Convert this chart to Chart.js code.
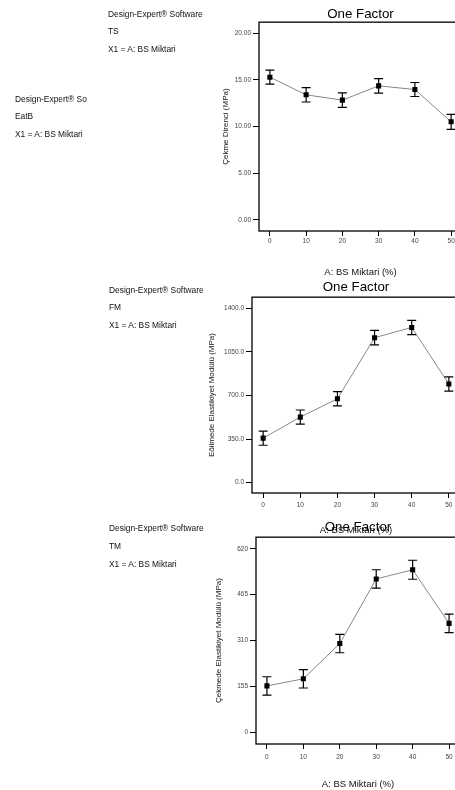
<!DOCTYPE html>
<html>
<head>
<meta charset="utf-8">
<script src="https://cdn.jsdelivr.net/npm/chart.js@4.4.1/dist/chart.umd.min.js"></script>
<style>
html, body { margin: 0; padding: 0; width: 455px; height: 790px; overflow: hidden; background: #fff; }
body { position: relative; font-family: "Liberation Sans", Arial, sans-serif; }
.plot { position: absolute; }
.note { position: absolute; font-size: 8.4px; line-height: 10px; color: #111; white-space: nowrap; overflow: hidden; will-change: transform; }
</style>
</head>
<body>
<div class="note" style="left:108px;top:9px">Design-Expert® Software</div>
<div class="note" style="left:108px;top:26px">TS</div>
<div class="note" style="left:108px;top:44px">X1 = A: BS Miktari</div>

<div class="note" style="left:15px;top:94px;width:72px">Design-Expert® Software</div>
<div class="note" style="left:15px;top:111px">EatB</div>
<div class="note" style="left:15px;top:129px">X1 = A: BS Miktari</div>

<div class="note" style="left:109px;top:285px">Design-Expert® Software</div>
<div class="note" style="left:109px;top:302px">FM</div>
<div class="note" style="left:109px;top:320px">X1 = A: BS Miktari</div>

<div class="note" style="left:109px;top:523px">Design-Expert® Software</div>
<div class="note" style="left:109px;top:541px">TM</div>
<div class="note" style="left:109px;top:559px">X1 = A: BS Miktari</div>

<canvas id="ts" class="plot" width="266" height="280" style="left:200px;top:0px"></canvas>
<canvas id="fm" class="plot" width="264" height="262" style="left:200px;top:275px"></canvas>
<canvas id="tm" class="plot" width="264" height="275" style="left:200px;top:515px"></canvas>

<script>
// BS amount levels (%)
const xLevels = [0, 10, 20, 30, 40, 50];

// TS - tensile strength (MPa)
const tsMean = [15.29, 13.40, 12.83, 14.36, 13.97, 10.51];
const tsErr  = [0.75, 0.77, 0.77, 0.77, 0.75, 0.80];
const tsTicks = [0, 5, 10, 15, 20];

// FM - flexural modulus (MPa)
const fmMean = [357, 526, 673, 1163, 1245, 791];
const fmErr  = [57, 57, 57, 58, 57, 57];
const fmTicks = [0, 350, 700, 1050, 1400];

// TM - tensile modulus (MPa)
const tmMean = [157, 181, 300, 518, 549, 368];
const tmErr  = [31, 31, 31, 31, 32, 31];
const tmTicks = [0, 155, 310, 465, 620];

const FONT = '"Liberation Sans", Arial, sans-serif';

const frame = {
  id: 'frame',
  afterDraw(chart) {
    const {ctx, chartArea: a} = chart;
    ctx.save();
    ctx.strokeStyle = '#000';
    ctx.lineWidth = 1.3;
    ctx.strokeRect(a.left, a.top, a.right - a.left, a.bottom - a.top);
    ctx.restore();
  }
};

const errorBars = {
  id: 'errorBars',
  afterDatasetsDraw(chart, args, opts) {
    const {ctx, scales: {x, y}} = chart;
    ctx.save();
    ctx.strokeStyle = '#000';
    ctx.lineWidth = 1.2;
    opts.mean.forEach((m, i) => {
      const px = x.getPixelForValue(xLevels[i]);
      const hi = y.getPixelForValue(m + opts.err[i]);
      const lo = y.getPixelForValue(m - opts.err[i]);
      ctx.beginPath();
      ctx.moveTo(px, hi); ctx.lineTo(px, lo);
      ctx.moveTo(px - 4.5, hi); ctx.lineTo(px + 4.5, hi);
      ctx.moveTo(px - 4.5, lo); ctx.lineTo(px + 4.5, lo);
      ctx.stroke();
    });
    ctx.restore();
  }
};

function makeChart(id, c) {
  return new Chart(document.getElementById(id), {
    type: 'line',
    data: {
      datasets: [{
        data: xLevels.map((v, i) => ({x: v, y: c.mean[i]})),
        borderColor: '#888',
        borderWidth: 1,
        pointStyle: 'rect',
        pointRadius: 3.6,
        pointBorderWidth: 0,
        pointBackgroundColor: '#000',
        pointBorderColor: '#000',
        tension: 0
      }]
    },
    options: {
      responsive: false,
      animation: false,
      layout: {padding: 0},
      plugins: {
        legend: {display: false},
        tooltip: {enabled: false},
        title: {
          display: true,
          text: 'One Factor',
          fullSize: false,
          color: '#000',
          font: {family: FONT, size: 13.3, weight: 'normal'},
          padding: {top: c.titleTop, bottom: c.titleBottom}
        },
        errorBars: {mean: c.mean, err: c.err}
      },
      scales: {
        x: {
          type: 'linear',
          min: -3,
          max: 53,
          afterBuildTicks: s => { s.ticks = xLevels.map(v => ({value: v})); },
          afterFit: s => { s.height = c.xHeight; },
          grid: {drawOnChartArea: false, drawTicks: true, tickLength: 5, color: '#000', lineWidth: 1},
          border: {display: false},
          ticks: {color: '#444', padding: c.xTickPad, font: {family: FONT, size: 6.5}, maxRotation: 0},
          title: {
            display: true,
            text: 'A: BS Miktari (%)',
            color: '#111',
            font: {family: FONT, size: 9.5},
            padding: {top: 0, bottom: c.xTitleBottom}
          }
        },
        y: {
          min: c.yMin,
          max: c.yMax,
          afterBuildTicks: s => { s.ticks = c.ticks.map(v => ({value: v})); },
          afterFit: s => { s.width = c.yWidth; },
          grid: {drawOnChartArea: false, drawTicks: true, tickLength: 6, color: '#000', lineWidth: 1},
          border: {display: false},
          ticks: {color: '#444', padding: 2, font: {family: FONT, size: 6.5}, callback: v => v.toFixed(c.digits)},
          title: {
            display: true,
            text: c.yTitle,
            color: '#111',
            font: {family: FONT, size: 8},
            padding: {top: c.yTitleTop, bottom: 0}
          }
        }
      }
    },
    plugins: [frame, errorBars]
  });
}

makeChart('ts', {
  mean: tsMean, err: tsErr, ticks: tsTicks, digits: 2,
  yMin: -1.18, yMax: 21.18, yWidth: 59, yTitleTop: 21,
  yTitle: 'Çekme Direnci (MPa)',
  titleTop: 6, titleBottom: 0.2,
  xHeight: 49, xTickPad: 1, xTitleBottom: 2.3
});

makeChart('fm', {
  mean: fmMean, err: fmErr, ticks: fmTicks, digits: 1,
  yMin: -83, yMax: 1488, yWidth: 52, yTitleTop: 7,
  yTitle: 'Eðilmede Elastikiyet Modülü (MPa)',
  titleTop: 4.2, titleBottom: 2.0,
  xHeight: 44, xTickPad: 3, xTitleBottom: 1.3
});

makeChart('tm', {
  mean: tmMean, err: tmErr, ticks: tmTicks, digits: 0,
  yMin: -39, yMax: 659, yWidth: 56, yTitleTop: 14,
  yTitle: 'Çekmede Elastikiyet Modülü (MPa)',
  titleTop: 4.2, titleBottom: 2.0,
  xHeight: 46, xTickPad: 4, xTitleBottom: 0.3
});
</script>
</body>
</html>
